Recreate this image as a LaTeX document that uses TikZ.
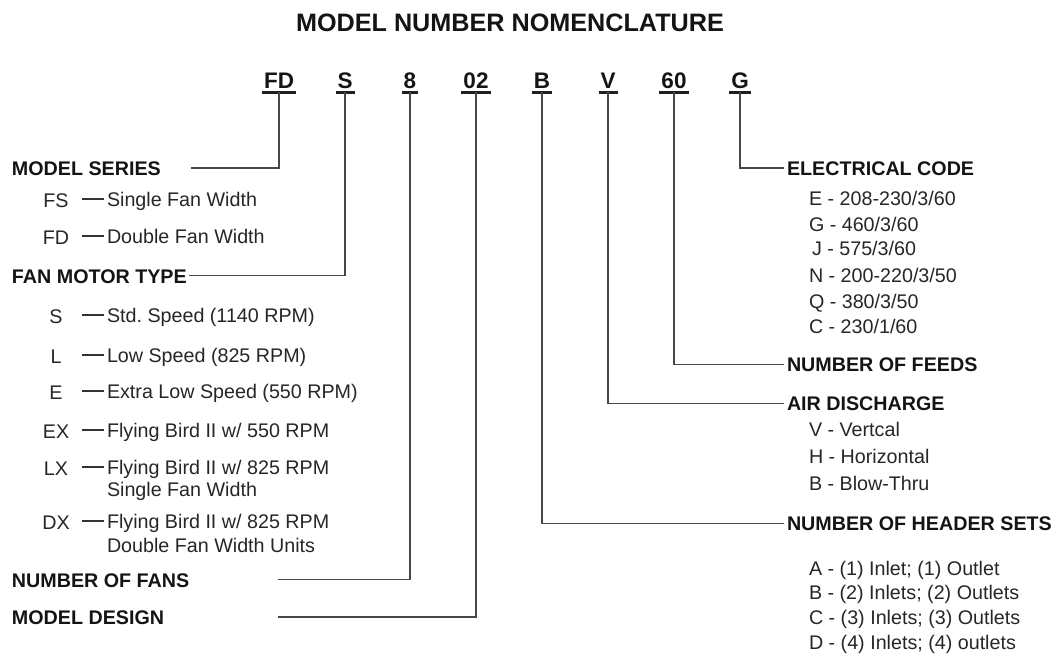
\documentclass[tikz,border=0pt]{standalone}
\usepackage{fontspec}
\setmainfont{Liberation Sans}
\frenchspacing
\begin{document}
\begin{tikzpicture}[x=1pt,y=-1pt,
  every node/.style={inner sep=0pt, outer sep=0pt},
  hd/.style={font=\fontsize{19.7}{22}\selectfont\bfseries, text=black!92, anchor=base west},
  bd/.style={font=\fontsize{19.7}{22}\selectfont, text=black!85, anchor=base west},
  cd/.style={font=\fontsize{19.7}{22}\selectfont, text=black!85, anchor=base},
  codetxt/.style={font=\fontsize{22.5}{24}\selectfont\bfseries, text=black!92, anchor=base},
  ttl/.style={font=\fontsize{25.2}{28}\selectfont\bfseries, text=black!92, anchor=base},
  ln/.style={draw=black!72, line width=1.6pt},
  ul/.style={draw=black!88, line width=3pt},
  dashln/.style={draw=black!80, line width=1.5pt}
]
\useasboundingbox (0,0) rectangle (1055,654);

% title
\node[ttl] (title) at (510,31.5) {MODEL NUMBER NOMENCLATURE};

% code letters
\foreach \n/\t/\x in {FD/FD/279, S/S/345, 8/8/410, 02/02/476, B/B/542, V/V/608, 60/60/674, G/G/740}{
  \node[codetxt] (c\n) at (\x,88) {\t};
  \draw[ul] ([xshift=-2pt,yshift=-4pt]c\n.base west) -- ([xshift=2pt,yshift=-4pt]c\n.base east);
}

% left headings
\node[hd] (ms)  at (12,175.5) {MODEL SERIES};
\node[hd] (fmt) at (12,283)   {FAN MOTOR TYPE};
\node[hd] (nf)  at (12,587)   {NUMBER OF FANS};
\node[hd] (md)  at (12,624)   {MODEL DESIGN};
\coordinate (msEnd)  at (191,168);
\coordinate (fmtEnd) at (189,275.5);
\coordinate (nfEnd)  at (278,579.5);
\coordinate (mdEnd)  at (278,617);

% right headings
\node[hd] (ec) at (787,175.5) {ELECTRICAL CODE};
\node[hd] (nfd) at (787,371.5) {NUMBER OF FEEDS};
\node[hd] (ad) at (787,410.5) {AIR DISCHARGE};
\node[hd] (nhs) at (787,530.5) {NUMBER OF HEADER SETS};
\coordinate (ecEnd)  at (784,168);
\coordinate (nfdEnd) at (784,364.5);
\coordinate (adEnd)  at (784,403.5);
\coordinate (nhsEnd) at (784,523.5);

% connectors
\draw[ln] ([yshift=-4pt]cFD.base) |- (msEnd);
\draw[ln] ([yshift=-4pt]cS.base)  |- (fmtEnd);
\draw[ln] ([yshift=-4pt]c8.base)  |- (nfEnd);
\draw[ln] ([yshift=-4pt]c02.base) |- (mdEnd);
\draw[ln] ([yshift=-4pt]cB.base)  |- (nhsEnd);
\draw[ln] ([yshift=-4pt]cV.base)  |- (adEnd);
\draw[ln] ([yshift=-4pt]c60.base) |- (nfdEnd);
\draw[ln] ([yshift=-4pt]cG.base)  |- (ecEnd);

% left items
\foreach \k/\c/\y/\d in {a/FS/206/{Single Fan Width}, b/FD/243/{Double Fan Width},
  c/S/322/{Std. Speed (1140 RPM)}, d/L/362/{Low Speed (825 RPM)},
  e/E/398/{Extra Low Speed (550 RPM)}, f/EX/437/{Flying Bird II w/ 550 RPM},
  g/LX/474/{Flying Bird II w/ 825 RPM}, h/DX/528/{Flying Bird II w/ 825 RPM}}{
  \node[cd] (k\k) at (56,\y+1) {\c};
  \node[bd] (d\k) at (107,\y) {\d};
  \draw[dashln] ([xshift=-25pt]d\k.base west) ++(0,-6.8) -- ++(22,0);
}
\node[bd] (dg2) at (107,496) {Single Fan Width};
\node[bd] (dh2) at (107,552) {Double Fan Width Units};

% electrical code items
\node[bd] (e1) at (809,205)   {E - 208-230/3/60};
\node[bd] (e2) at (809,231)   {G - 460/3/60};
\node[bd] (e3) at (812,255)   {J - 575/3/60};
\node[bd] (e4) at (809,282.5) {N - 200-220/3/50};
\node[bd] (e5) at (809,308.5) {Q - 380/3/50};
\node[bd] (e6) at (809,333)   {C - 230/1/60};

% air discharge items
\node[bd] (a1) at (809,436.5) {V - Vertcal};
\node[bd] (a2) at (809,463)   {H - Horizontal};
\node[bd] (a3) at (809,490)   {B - Blow-Thru};

% header set items
\node[bd] (h1) at (809,575)   {A - (1) Inlet; (1) Outlet};
\node[bd] (h2) at (809,599.5) {B - (2) Inlets; (2) Outlets};
\node[bd] (h3) at (809,624)   {C - (3) Inlets; (3) Outlets};
\node[bd] (h4) at (809,649)   {D - (4) Inlets; (4) outlets};
\end{tikzpicture}
\end{document}
